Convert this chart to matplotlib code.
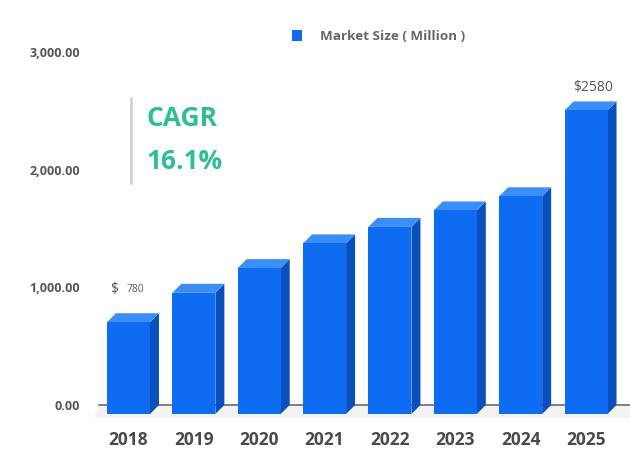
import matplotlib.pyplot as plt
from matplotlib.patches import Polygon, Rectangle
import numpy as np

years = ["2018", "2019", "2020", "2021", "2022", "2023", "2024", "2025"]
market_size = [780, 1030, 1240, 1450, 1590, 1730, 1850, 2580]
y_ticks = [0, 1000, 2000, 3000]
y_tick_labels = ["0.00", "1,000.00", "2,000.00", "3,000.00"]

FRONT = "#0d6cf2"
TOP = "#3a8ef5"
SIDE = "#0a50bd"
FONT = "Open Sans"

W, H = 630, 449
fig = plt.figure(figsize=(W / 100, H / 100), dpi=100)
ax = fig.add_axes([95 / W, (H - 420) / H, 535 / W, 400 / H])

px_per_val = 353 / 3000.0   # pixels per unit value
px_per_idx = 65.36          # pixels per bar step
ax.set_ylim((405 - 420) / px_per_val, (405 - 20) / px_per_val)
ax.set_xlim((95 - 128.5) / px_per_idx, (630 - 128.5) / px_per_idx)

half = 21.5 / px_per_idx
dx = 9 / px_per_idx
dy = 9 / px_per_val

# floor + baseline
ax.add_patch(Polygon([(-0.55, -dy - 30), (7.8, -dy - 30), (7.8, 0), (-0.45, 0)],
                     closed=True, fc="#f3f3f3", ec="none", zorder=0))
ax.plot([-0.45, 7.8], [0, 0], color="#6b6b6b", lw=1.2, zorder=1)

for i, v in enumerate(market_size):
    x0, x1 = i - half, i + half
    ax.add_patch(Polygon([(x1, -dy), (x1 + dx, 0), (x1 + dx, v), (x1, v - dy)],
                         closed=True, fc=SIDE, ec="none", zorder=2))
    ax.add_patch(Polygon([(x0, v - dy), (x1, v - dy), (x1 + dx, v), (x0 + dx, v)],
                         closed=True, fc=TOP, ec="none", zorder=2))
    ax.add_patch(Rectangle((x0, -dy), x1 - x0, v, fc=FRONT, ec="none", zorder=3))

ax.set_xticks(np.arange(len(years)))
ax.set_xticklabels(years, fontfamily=FONT, fontweight="bold", fontsize=12.5, color="#4a4a4a")
ax.set_yticks(y_ticks)
ax.set_yticklabels(y_tick_labels, fontfamily=FONT, fontweight="bold", fontsize=9, color="#555555")
ax.tick_params(axis="x", length=0, pad=8)
ax.tick_params(axis="y", length=0, pad=11)
for s in ax.spines.values():
    s.set_visible(False)

# value labels
ax.annotate("$", (0, market_size[0]), xytext=(-10, 17), textcoords="offset points",
            ha="center", va="center", fontfamily=FONT, fontsize=10, color="#555555")
ax.annotate("780", (0, market_size[0]), xytext=(5, 17), textcoords="offset points",
            ha="center", va="center", fontfamily=FONT, fontsize=7.5, color="#555555")
ax.annotate("$2580", (7, market_size[-1]), xytext=(5, 10), textcoords="offset points",
            ha="center", va="center", fontfamily=FONT, fontsize=10, color="#555555")

# CAGR box
fig.add_artist(plt.Line2D([131 / W, 131 / W], [1 - 98 / H, 1 - 183 / H], color="#cfcfcf", lw=1.8))
fig.text(147 / W, 1 - 119 / H, "CAGR", fontfamily=FONT, fontweight="bold", fontsize=19,
         color="#2dbd9b", va="center", ha="left")
fig.text(146 / W, 1 - 161 / H, "16.1%", fontfamily=FONT, fontweight="bold", fontsize=19,
         color="#2dbd9b", va="center", ha="left")

# legend
fig.add_artist(Rectangle((292 / W, 1 - 41 / H), 10 / W, 11 / H, fc=FRONT, ec="none"))
fig.text(320 / W, 1 - 36 / H, "Market Size ( Million )", fontfamily=FONT, fontweight="bold",
         fontsize=9.7, color="#666666", va="center", ha="left")

fig.savefig("out.png", dpi=100)
